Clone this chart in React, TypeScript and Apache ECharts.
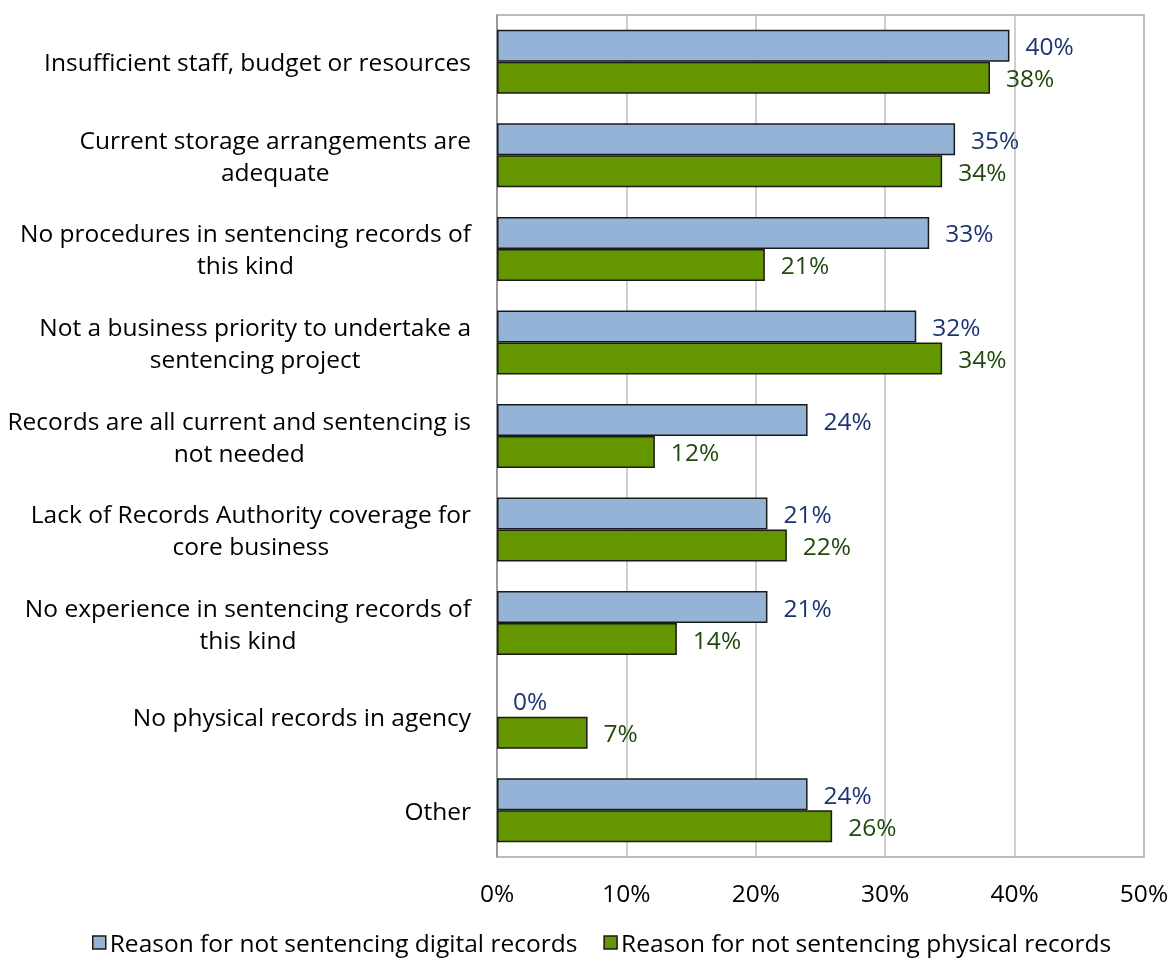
import React, { useEffect, useRef } from "react";
import * as echarts from "echarts";

const categories: string[] = [
  "Insufficient staff, budget or resources",
  "Current storage arrangements are\nadequate",
  "No procedures in sentencing records of\nthis kind",
  "Not a business priority to undertake a\nsentencing project",
  "Records are all current and sentencing is\nnot needed",
  "Lack of Records Authority coverage for\ncore business",
  "No experience in sentencing records of\nthis kind",
  "No physical records in agency",
  "Other",
];

const digitalValues: number[] = [39.6, 35.4, 33.4, 32.4, 24.0, 20.9, 20.9, 0, 24.0];
const physicalValues: number[] = [38.1, 34.4, 20.7, 34.4, 12.2, 22.4, 13.9, 7.0, 25.9];

const seriesNames: string[] = [
  "Reason for not sentencing digital records",
  "Reason for not sentencing physical records",
];

const FONT = "Open Sans";
const FS = 24.5;

const toData = (vals: number[]) =>
  vals.map((v) => (v === 0 ? { value: v, itemStyle: { borderWidth: 0 } } : v));

export default function App() {
  const ref = useRef<HTMLDivElement>(null);
  useEffect(() => {
    if (!ref.current) return;
    const chart = echarts.init(ref.current, undefined, { renderer: "svg" });
    const labelFmt = (p: any) => `${Math.round(p.value)}%`;
    chart.setOption({
      animation: false,
      textStyle: { fontFamily: FONT },
      grid: {
        left: 497,
        right: 30,
        top: 15,
        bottom: 101,
        show: true,
        borderColor: "#A6A6A6",
        borderWidth: 1.5,
      },
      legend: {
        top: 930,
        left: 92,
        icon: "rect",
        itemWidth: 13,
        itemHeight: 13,
        itemGap: 26,
        padding: 0,
        itemStyle: { borderColor: "#1A1A1A", borderWidth: 1.5 },
        textStyle: {
          fontSize: FS,
          lineHeight: 25,
          color: "#000",
          fontFamily: FONT,
          padding: [0, 0, 0, -1],
        },
        data: seriesNames,
      },
      xAxis: {
        type: "value",
        min: 0,
        max: 50,
        interval: 10,
        axisLine: { show: false },
        axisTick: { show: false },
        axisLabel: {
          formatter: (v: number) => `${v}%`,
          fontSize: FS,
          color: "#000",
          margin: 23,
          fontFamily: FONT,
        },
        splitLine: { show: true, lineStyle: { color: "#BFBFBF", width: 1.5 } },
      },
      yAxis: {
        type: "category",
        inverse: true,
        data: categories,
        axisLine: { show: true, lineStyle: { color: "#8C8C8C", width: 1.5 } },
        axisTick: { show: false },
        axisLabel: {
          align: "right",
          margin: 26,
          color: "#000",
          fontSize: FS,
          lineHeight: 32,
          fontFamily: FONT,
          formatter: (v: string) =>
            v
              .split("\n")
              .map((l) => `{c|${l}}`)
              .join("\n"),
          rich: {
            c: {
              align: "center",
              fontSize: FS,
              lineHeight: 32,
              color: "#000",
              fontFamily: FONT,
            },
          },
        },
      },
      series: [
        {
          name: seriesNames[0],
          type: "bar",
          data: toData(digitalValues),
          barGap: "0%",
          barCategoryGap: "31.6%",
          itemStyle: { color: "#95B3D7", borderColor: "#1A1A1A", borderWidth: 1.5 },
          label: {
            show: true,
            position: "right",
            distance: 16,
            formatter: labelFmt,
            fontSize: FS,
            color: "#1C3570",
            fontFamily: FONT,
          },
        },
        {
          name: seriesNames[1],
          type: "bar",
          data: toData(physicalValues),
          barGap: "0%",
          barCategoryGap: "31.6%",
          itemStyle: { color: "#649600", borderColor: "#1A1A1A", borderWidth: 1.5 },
          label: {
            show: true,
            position: "right",
            distance: 16,
            formatter: labelFmt,
            fontSize: FS,
            color: "#22490D",
            fontFamily: FONT,
          },
        },
      ],
    });
    return () => chart.dispose();
  }, []);
  return (
    <div
      ref={ref}
      style={{ position: "fixed", left: 0, top: 0, width: 1174, height: 958 }}
    />
  );
}
